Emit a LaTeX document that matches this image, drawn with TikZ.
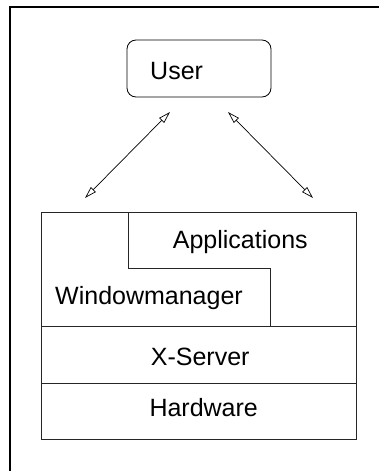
\documentclass[tikz,border=0pt]{standalone}
\usepackage{fontspec}
\setmainfont{Liberation Sans}
\usetikzlibrary{arrows.meta}
\begin{document}
\begin{tikzpicture}[x=1pt,y=-1pt,
  lbl/.style={anchor=base west,inner sep=0pt,font=\fontsize{25}{30}\selectfont},
  layer/.style={draw=black!85,line width=1pt},
  link/.style={line width=0.7pt,{Triangle[open,length=12pt,width=7pt]}-{Triangle[open,length=12pt,width=7pt]}}]
\useasboundingbox (0,0) rectangle (379,471);
% frame
\draw[line width=2.2pt] (10,471) -- (10,7) -- (379,7);
% user box
\node[draw,rounded corners=9pt,line width=0.8pt,minimum width=144pt,minimum height=57pt,inner sep=0pt] (userbox) at (199,68.5) {};
\node[lbl] (user) at (150,79.3) {User};
% stack
\node[layer,minimum width=315pt,minimum height=227pt,inner sep=0pt] (stack) at (198.5,325.5) {};
\draw[layer] (41,326) -- (356,326);
\draw[layer] (41,383.3) -- (356,383.3);
\draw[layer] (128,212) -- (128,268) -- (270,268) -- (270,326);
\node[lbl] (apps) at (172.7,248.3) {Applications};
\node[lbl] (wm) at (55,304.3) {Windowmanager};
\node[lbl] (xs) at (150.7,365) {X-Server};
\node[lbl] (hw) at (149.3,416.7) {Hardware};
% arrows
\coordinate (l1) at (170,112);
\coordinate (l2) at (85,198);
\coordinate (r1) at (228,112);
\coordinate (r2) at (313,198);
\draw[link] (l1) -- (l2);
\draw[link] (r1) -- (r2);
\end{tikzpicture}
\end{document}
